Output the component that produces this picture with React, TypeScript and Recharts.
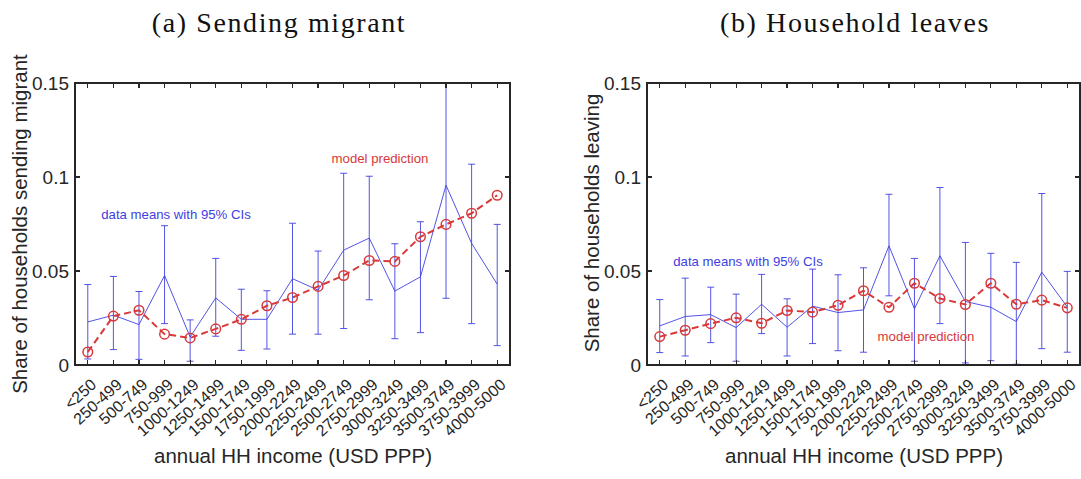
import React from 'react';
import { LineChart, Line, XAxis, YAxis, ErrorBar } from 'recharts';

const categories = ['<250', '250-499', '500-749', '750-999', '1000-1249', '1250-1499', '1500-1749', '1750-1999', '2000-2249', '2250-2499', '2500-2749', '2750-2999', '3000-3249', '3250-3499', '3500-3749', '3750-3999', '4000-5000'];
const xTicks = [0, 1, 2, 3, 4, 5, 6, 7, 8, 9, 10, 11, 12, 13, 14, 15, 16];
const yTicks = [0, 0.05, 0.1, 0.15];
const xDomain = [-0.5, 16.5];
const yDomain = [0, 0.15];

// (a) Sending migrant
const sendMean = [0.0229, 0.0265, 0.0215, 0.0476, 0.0149, 0.0357, 0.0243, 0.0243, 0.0459, 0.0398, 0.0611, 0.0675, 0.0393, 0.0469, 0.0956, 0.0647, 0.043];
const sendLo = [0.0032, 0.0082, 0.003, 0.022, 0.002, 0.0153, 0.0078, 0.0085, 0.0164, 0.0164, 0.0194, 0.0347, 0.014, 0.0172, 0.0355, 0.022, 0.0103];
const sendHi = [0.0428, 0.0471, 0.0391, 0.0741, 0.024, 0.0567, 0.0403, 0.0395, 0.0754, 0.0606, 0.102, 0.1004, 0.0645, 0.0762, 0.15, 0.1068, 0.0748];
const sendModel = [0.0069, 0.026, 0.0291, 0.0164, 0.0144, 0.0192, 0.0243, 0.0315, 0.0359, 0.0418, 0.0476, 0.0556, 0.0551, 0.0682, 0.0748, 0.0807, 0.0903];

// (b) Household leaves
const leaveMean = [0.0208, 0.0258, 0.0268, 0.0199, 0.0323, 0.0201, 0.0313, 0.0279, 0.0293, 0.0634, 0.0299, 0.0581, 0.0338, 0.0307, 0.0231, 0.0494, 0.0309];
const leaveLo = [0.0066, 0.0048, 0.0119, 0.002, 0.0167, 0.0048, 0.0114, 0.0076, 0.0068, 0.0368, 0.002, 0.022, 0.0011, 0.0023, 0.0004, 0.0087, 0.0068];
const leaveHi = [0.0348, 0.0462, 0.0414, 0.0377, 0.0482, 0.0352, 0.051, 0.048, 0.0517, 0.0908, 0.0567, 0.0944, 0.0652, 0.0594, 0.0546, 0.0912, 0.0498];
const leaveModel = [0.0151, 0.0185, 0.022, 0.0251, 0.0222, 0.029, 0.0281, 0.0318, 0.0395, 0.0307, 0.0435, 0.0354, 0.0322, 0.0435, 0.0323, 0.0345, 0.0304];

const BLUE = '#4040e2';
const RED = '#d8393a';
const AX = '#262626';
const SANS = '"Liberation Sans", Arial, Helvetica, sans-serif';
const SERIF = '"Liberation Serif", "Times New Roman", serif';

const CHART_H = 479;
const MARGIN_TOP = 83;
const XAXIS_H = 114;
const TICK_PX = 5;
const FRAME_W = 2;

function buildRows(mean: number[], lo: number[], hi: number[], model: number[]) {
  return categories.map((c, i) => ({
    idx: i,
    label: c,
    mean: mean[i],
    err: [mean[i] - lo[i], hi[i] - mean[i]],
    model: model[i],
  }));
}

const sendRows = buildRows(sendMean, sendLo, sendHi, sendModel);
const leaveRows = buildRows(leaveMean, leaveLo, leaveHi, leaveModel);

const BottomTick = (props: any) => {
  const { x, y, payload } = props;
  const ax = x + 6;
  const ay = y + 17;
  return (
    <text x={ax} y={ay} textAnchor="end" dominantBaseline="central" transform={`rotate(-42, ${ax}, ${ay})`} fontSize={16} fill={AX} fontFamily={SANS}>
      {categories[payload.value]}
    </text>
  );
};

const LeftTick = (props: any) => {
  const { x, y, payload } = props;
  return (
    <text x={x - 6} y={y} textAnchor="end" dominantBaseline="central" fontSize={19} fill={AX} fontFamily={SANS}>
      {String(payload.value)}
    </text>
  );
};

const ModelDot = (p: any) => {
  if (p.cx == null || p.cy == null) return null;
  return <circle key={`d-${p.index}`} cx={p.cx} cy={p.cy} r={4.8} fill="none" stroke={RED} strokeWidth={1.5} />;
};

// MATLAB-style axes box (CSS border) with inward tick marks, aligned with the chart's plot area
function AxesBox(props: { left: number; plotW: number }) {
  const { left, plotW } = props;
  const top = MARGIN_TOP;
  const plotH = CHART_H - MARGIN_TOP - XAXIS_H;
  const sx = (v: number) => ((v - xDomain[0]) / (xDomain[1] - xDomain[0])) * plotW;
  const sy = (v: number) => plotH - ((v - yDomain[0]) / (yDomain[1] - yDomain[0])) * plotH;
  const tick = (key: string, l: number, t: number, w: number, h: number) => (
    <div key={key} style={{ position: 'absolute', left: l, top: t, width: w, height: h, background: AX }} />
  );
  return (
    <div
      style={{
        position: 'absolute',
        left: left - FRAME_W / 2,
        top: top - FRAME_W / 2,
        width: plotW + FRAME_W,
        height: plotH + FRAME_W,
        boxSizing: 'border-box',
        border: `${FRAME_W}px solid ${AX}`,
        pointerEvents: 'none',
      }}
    >
      <div style={{ position: 'absolute', left: -FRAME_W / 2, top: -FRAME_W / 2, width: plotW, height: plotH }}>
        {xTicks.map((v) => tick(`b${v}`, sx(v) - 0.6, plotH - TICK_PX, 1.2, TICK_PX))}
        {xTicks.map((v) => tick(`t${v}`, sx(v) - 0.6, 0, 1.2, TICK_PX))}
        {yTicks.map((v) => tick(`l${v}`, 0, sy(v) - 0.6, TICK_PX, 1.2))}
        {yTicks.map((v) => tick(`r${v}`, plotW - TICK_PX, sy(v) - 0.6, TICK_PX, 1.2))}
      </div>
    </div>
  );
}

function Panel(props: { rows: any[]; width: number; yAxisWidth: number; marginRight: number }) {
  const { rows, width, yAxisWidth, marginRight } = props;
  const plotW = width - yAxisWidth - marginRight;
  return (
    <div style={{ position: 'relative', width, height: CHART_H }}>
      <LineChart width={width} height={CHART_H} data={rows} margin={{ top: MARGIN_TOP, right: marginRight, bottom: 0, left: 0 }}>
        <XAxis dataKey="idx" type="number" domain={xDomain} ticks={xTicks} interval={0} allowDataOverflow height={XAXIS_H} tickSize={0} tickMargin={0} axisLine={false} tickLine={false} tick={<BottomTick />} />
        <YAxis type="number" domain={yDomain} ticks={yTicks} interval={0} allowDataOverflow width={yAxisWidth} tickSize={0} tickMargin={0} axisLine={false} tickLine={false} tick={<LeftTick />} />
        <Line dataKey="mean" stroke={BLUE} strokeWidth={0.9} dot={false} isAnimationActive={false}>
          <ErrorBar dataKey="err" direction="y" width={3.5} stroke={BLUE} strokeWidth={0.9} isAnimationActive={false} />
        </Line>
        <Line dataKey="model" stroke={RED} strokeWidth={2} strokeDasharray="7 4" dot={ModelDot} isAnimationActive={false} />
      </LineChart>
      <AxesBox left={yAxisWidth} plotW={plotW} />
    </div>
  );
}

const abs = (left: number, top: number, extra: React.CSSProperties = {}): React.CSSProperties => ({
  position: 'absolute', left, top, transform: 'translate(-50%, -50%)', whiteSpace: 'nowrap', lineHeight: 1, ...extra,
});

export default function App() {
  return (
    <div style={{ position: 'absolute', left: 0, top: 0, width: 1081, height: 479, background: '#fff', overflow: 'hidden', fontFamily: SANS }}>
      <div style={{ position: 'absolute', left: 0, top: 0 }}>
        <Panel rows={sendRows} width={540} yAxisWidth={75} marginRight={30} />
      </div>
      <div style={{ position: 'absolute', left: 540, top: 0 }}>
        <Panel rows={leaveRows} width={541} yAxisWidth={107} marginRight={1} />
      </div>

      <div style={abs(279, 23, { fontFamily: SERIF, fontSize: 28, letterSpacing: 1.6, color: '#111' })}>(a) Sending migrant</div>
      <div style={abs(855, 23, { fontFamily: SERIF, fontSize: 28, letterSpacing: 1.6, color: '#111' })}>(b) Household leaves</div>

      <div style={abs(20, 224, { fontSize: 20.5, color: AX, transform: 'translate(-50%, -50%) rotate(-90deg)' })}>Share of households sending migrant</div>
      <div style={abs(592, 223, { fontSize: 20.5, color: AX, transform: 'translate(-50%, -50%) rotate(-90deg)' })}>Share of households leaving</div>

      <div style={abs(293, 456, { fontSize: 20.5, color: AX })}>annual HH income (USD PPP)</div>
      <div style={abs(864, 456, { fontSize: 20.5, color: AX })}>annual HH income (USD PPP)</div>

      <div style={abs(380, 159, { fontSize: 13.2, color: RED })}>model prediction</div>
      <div style={abs(176, 215, { fontSize: 13.2, color: BLUE })}>data means with 95% CIs</div>
      <div style={abs(748, 262, { fontSize: 13.2, color: BLUE })}>data means with 95% CIs</div>
      <div style={abs(926, 337, { fontSize: 13.2, color: RED })}>model prediction</div>
    </div>
  );
}
